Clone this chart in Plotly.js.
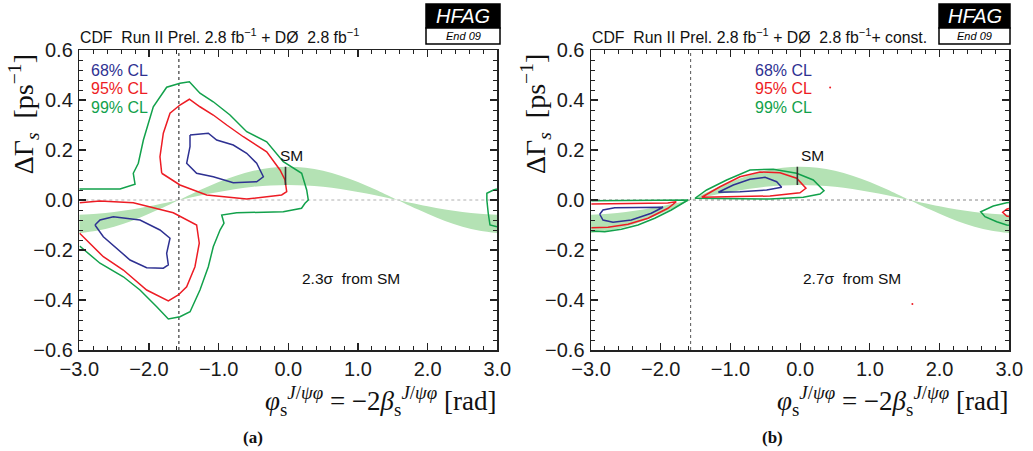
<!DOCTYPE html>
<html>
<head>
<meta charset="utf-8">
<script src="https://cdn.plot.ly/plotly-3.0.1.min.js"></script>
<style>
  html, body { margin: 0; padding: 0; background: #fff; }
  #chart { width: 1033px; height: 451px; }
</style>
</head>
<body>
<div id="chart"></div>
<script>
// ---- Standard Model band: DeltaGamma_s range versus phi_s ----
const bandPhi   = [-3, -2.75, -2.5, -2.25, -2, -1.75, -1.571, -1.5, -1.25, -1, -0.75, -0.5, -0.25, 0,
                   0.25, 0.5, 0.75, 1, 1.25, 1.5, 1.571, 1.75, 2, 2.25, 2.5, 2.75, 3];
const bandLow   = [-0.059, -0.055, -0.048, -0.038, -0.025, -0.011, 0, 0.004, 0.019, 0.032, 0.044, 0.053, 0.058, 0.060,
                   0.058, 0.053, 0.044, 0.032, 0.019, 0.004, 0, -0.011, -0.025, -0.038, -0.048, -0.055, -0.059];
const bandHigh  = [-0.132, -0.123, -0.107, -0.084, -0.055, -0.024, 0, 0.009, 0.042, 0.072, 0.097, 0.117, 0.129, 0.133,
                   0.129, 0.117, 0.097, 0.072, 0.042, 0.009, 0, -0.024, -0.055, -0.084, -0.107, -0.123, -0.132];

// SM point marker
const smPhi = -0.04;
const smDgLow = 0.06;
const smDgHigh = 0.133;
const phiSymLine = -1.571;

// ---- Panel (a): CDF + D0 combination ----
const a99MainX = [-3.0, -2.416, -2.20, -2.225, -2.153, -2.08, -1.938, -1.746, -1.555, -1.42, -1.268, -1.077, -0.837, -0.597,
                  -0.31, -0.072, 0.192, 0.264, 0.287, 0.24, 0.19, -0.072, -0.74, -0.956, -0.923, -0.98, -1.077, -1.148,
                  -1.268, -1.41, -1.555, -1.722, -1.889, -2.129, -2.368, -2.703, -2.995];
const a99MainY = [0.044, 0.044, 0.063, 0.107, 0.147, 0.24, 0.373, 0.451, 0.467, 0.473, 0.427, 0.393, 0.34, 0.273,
                  0.233, 0.153, 0.107, 0.04, 0.0, -0.013, -0.033, -0.047, -0.051, -0.06, -0.093, -0.12, -0.187, -0.267,
                  -0.36, -0.447, -0.467, -0.476, -0.427, -0.36, -0.307, -0.253, -0.184];
const a99EdgeX = [2.995, 2.945, 2.85, 2.85, 2.87, 2.895, 2.995];
const a99EdgeY = [0.044, 0.04, 0.027, 0.0, -0.053, -0.1, -0.107];
const a95UpX = [-1.817, -1.842, -1.794, -1.698, -1.555, -1.42, -1.268, -1.077, -0.884, -0.646, -0.31, -0.119, -0.047,
                -0.023, -0.095, -0.597, -1.172, -1.555, -1.817];
const a95UpY = [0.107, 0.173, 0.267, 0.347, 0.38, 0.403, 0.373, 0.34, 0.3, 0.253, 0.193, 0.12, 0.08,
                0.033, 0.02, 0.004, 0.02, 0.06, 0.107];
const a95LoX = [-2.995, -2.703, -2.225, -1.651, -1.316, -1.278, -1.34, -1.459, -1.579, -1.722, -2.033, -2.368, -2.655, -2.904, -2.995];
const a95LoY = [-0.011, -0.004, -0.011, -0.051, -0.1, -0.173, -0.267, -0.347, -0.38, -0.404, -0.36, -0.28, -0.227, -0.16, -0.133];
const a68UpX = [-1.411, -1.148, -1.028, -0.79, -0.597, -0.454, -0.358, -0.454, -0.79, -1.077, -1.316, -1.459, -1.411, -1.411];
const a68UpY = [0.26, 0.267, 0.24, 0.22, 0.187, 0.147, 0.093, 0.073, 0.069, 0.093, 0.107, 0.147, 0.213, 0.26];
const a68LoX = [-2.775, -2.703, -2.512, -2.129, -1.842, -1.698, -1.746, -1.722, -1.794, -2.033, -2.272, -2.464, -2.655, -2.775];
const a68LoY = [-0.1, -0.08, -0.067, -0.08, -0.12, -0.153, -0.213, -0.26, -0.273, -0.271, -0.24, -0.193, -0.147, -0.1];

// ---- Panel (b): combination with constraint ----
const b99UpX = [-1.508, -1.341, -1.054, -0.72, -0.385, -0.05, 0.188, 0.342, 0.285, 0.045, -0.433, -1.15, -1.508];
const b99UpY = [0.007, 0.04, 0.08, 0.12, 0.123, 0.107, 0.08, 0.037, 0.024, 0.011, 0.004, 0.004, 0.007];
const b95UpX = [-1.412, -1.15, -0.863, -0.576, -0.289, -0.05, 0.083, -0.003, -0.433, -1.054, -1.412];
const b95UpY = [0.011, 0.053, 0.093, 0.112, 0.109, 0.087, 0.047, 0.029, 0.016, 0.011, 0.011];
const b68UpX = [-1.174, -0.959, -0.72, -0.504, -0.337, -0.265, -0.48, -0.863, -1.174];
const b68UpY = [0.031, 0.06, 0.083, 0.091, 0.073, 0.051, 0.04, 0.033, 0.031];
const b99LoX = [-2.995, -1.62, -1.609, -1.848, -2.086, -2.326, -2.565, -2.803, -2.995];
const b99LoY = [-0.003, -0.002, 0.0, -0.04, -0.073, -0.1, -0.117, -0.127, -0.124];
const b95LoX = [-2.995, -1.9, -1.777, -1.896, -2.182, -2.469, -2.756, -2.995];
const b95LoY = [-0.016, -0.012, -0.007, -0.033, -0.073, -0.097, -0.109, -0.111];
const b68LoX = [-2.875, -2.828, -2.66, -2.326, -1.967, -2.135, -2.422, -2.684, -2.828, -2.875];
const b68LoY = [-0.057, -0.04, -0.031, -0.031, -0.029, -0.053, -0.08, -0.089, -0.08, -0.057];
const b99EdgeX = [2.995, 2.962, 2.77, 2.59, 2.651, 2.82, 2.962, 2.995];
const b99EdgeY = [-0.01, -0.011, -0.024, -0.047, -0.067, -0.087, -0.1, -0.101];
const b95EdgeX = [2.995, 2.962, 2.905, 2.962, 2.995];
const b95EdgeY = [-0.034, -0.037, -0.049, -0.064, -0.066];
const bSpeckX = [0.43, 1.61];
const bSpeckY = [0.45, -0.416];

const CL_LABELS = ['68% CL', '95% CL', '99% CL'];
const SIGMA_TEXT = ['2.3σ  from SM', '2.7σ  from SM'];

// ---- styling ----
const BLUE = '#2e3192', RED = '#ed1c24', GREEN = '#12a14b';
const BAND = '#b4e2b4';
const SANS = 'Liberation Sans, Arial, Helvetica, sans-serif';
const SERIF = 'Liberation Serif, Times New Roman, serif';
const W = 1033, H = 451;
const fx = p => p / W;
const fy = p => 1 - p / H;

function line(x, y, color, ax, extra) {
  return Object.assign({
    type: 'scatter', mode: 'lines', x: x, y: y, xaxis: ax[0], yaxis: ax[1],
    line: { color: color, width: 1.5 }, hoverinfo: 'skip', showlegend: false
  }, extra || {});
}

function panel(ax, contours, refStyle) {
  const t = [];
  t.push(line(bandPhi, bandLow, BAND, ax, { line: { color: BAND, width: 0, shape: 'spline' } }));
  t.push(line(bandPhi, bandHigh, BAND, ax, { line: { color: BAND, width: 0, shape: 'spline' }, fill: 'tonexty', fillcolor: BAND }));
  t.push(line([-3, 3], [0, 0], refStyle.hColor, ax, { line: { color: refStyle.hColor, width: 1, dash: refStyle.hDash } }));
  t.push(line([phiSymLine, phiSymLine], [-0.6, 0.6], refStyle.vColor, ax,
              { line: { color: refStyle.vColor, width: refStyle.vWidth, dash: refStyle.vDash } }));
  contours.forEach(c => t.push(line(c[0], c[1], c[2], ax)));
  t.push(line([smPhi, smPhi], [smDgLow, smDgHigh], '#333', ax, { line: { color: '#333', width: 1.6 } }));
  return t;
}

const traces = []
  .concat(panel(['x', 'y'], [
    [a99MainX, a99MainY, GREEN], [a99EdgeX, a99EdgeY, GREEN],
    [a95UpX, a95UpY, RED], [a95LoX, a95LoY, RED],
    [a68UpX, a68UpY, BLUE], [a68LoX, a68LoY, BLUE]
  ], { hColor: '#b0b0b0', hDash: '3px,3px', vColor: '#555', vWidth: 1.4, vDash: 'dot' }))
  .concat(panel(['x2', 'y2'], [
    [b99UpX, b99UpY, GREEN], [b95UpX, b95UpY, RED], [b68UpX, b68UpY, BLUE],
    [b99LoX, b99LoY, GREEN], [b95LoX, b95LoY, RED], [b68LoX, b68LoY, BLUE],
    [b99EdgeX, b99EdgeY, GREEN], [b95EdgeX, b95EdgeY, RED]
  ], { hColor: '#888', hDash: '3px,3px', vColor: '#555', vWidth: 1, vDash: '3px,3px' }));
traces.push({ type: 'scatter', mode: 'markers', x: bSpeckX, y: bSpeckY, xaxis: 'x2', yaxis: 'y2',
  marker: { color: RED, size: 2 }, hoverinfo: 'skip', showlegend: false });

function xAxis(domain, anchor) {
  return {
    domain: domain, anchor: anchor, range: [-3, 3], dtick: 1, tick0: 0, tickformat: '.1f',
    ticks: 'inside', ticklen: 7, tickwidth: 1.2, tickcolor: '#222',
    minor: { ticks: 'inside', dtick: 0.2, tick0: 0, ticklen: 4, tickwidth: 1, tickcolor: '#222' },
    showline: true, mirror: 'allticks', linecolor: '#222', linewidth: 1.5,
    showgrid: false, zeroline: false, automargin: false, fixedrange: true,
    tickfont: { family: SANS, size: 20, color: '#1a1a1a' }, ticklabelstandoff: 0
  };
}
function yAxis(domain, anchor) {
  return {
    domain: domain, anchor: anchor, range: [-0.6, 0.6], dtick: 0.2, tick0: 0, tickformat: '.1f',
    ticks: 'inside', ticklen: 7, tickwidth: 1.2, tickcolor: '#222',
    minor: { ticks: 'inside', dtick: 0.04, tick0: 0, ticklen: 4, tickwidth: 1, tickcolor: '#222' },
    showline: true, mirror: 'allticks', linecolor: '#222', linewidth: 1.5,
    showgrid: false, zeroline: false, automargin: false, fixedrange: true,
    tickfont: { family: SANS, size: 20, color: '#1a1a1a' }, ticklabelstandoff: 1
  };
}

const yDom = [fy(350), fy(50)];
const annotations = [];
const shapes = [];

function panelDecor(xl, xr, xa, ya, titleText, sigma, sigmaX, legendX, smLabelX, tag, boxL, boxR) {
  annotations.push({ xref: 'paper', yref: 'paper', x: fx(xl - 1), y: fy(48), xanchor: 'left', yanchor: 'bottom',
    text: titleText, showarrow: false, font: { family: SANS, size: 15.8, color: '#111' } });
  // HFAG badge
  shapes.push({ type: 'rect', xref: 'paper', yref: 'paper', x0: fx(boxL), x1: fx(boxR), y0: fy(28), y1: fy(4),
    fillcolor: '#000', line: { color: '#000', width: 1.5 } });
  shapes.push({ type: 'rect', xref: 'paper', yref: 'paper', x0: fx(boxL), x1: fx(boxR), y0: fy(44), y1: fy(28),
    fillcolor: '#fff', line: { color: '#000', width: 1.5 } });
  annotations.push({ xref: 'paper', yref: 'paper', x: fx((boxL + boxR) / 2), y: fy(16), xanchor: 'center', yanchor: 'middle',
    text: '<i>HFAG</i>', showarrow: false, font: { family: SANS, size: 20, color: '#fff' } });
  annotations.push({ xref: 'paper', yref: 'paper', x: fx((boxL + boxR) / 2), y: fy(36), xanchor: 'center', yanchor: 'middle',
    text: '<i>End 09</i>', showarrow: false, font: { family: SANS, size: 11, color: '#000' } });
  // confidence-level key
  [[CL_LABELS[0], BLUE, 0.52], [CL_LABELS[1], RED, 0.445], [CL_LABELS[2], GREEN, 0.37]].forEach(r => {
    annotations.push({ xref: xa, yref: ya, x: legendX, y: r[2], xanchor: 'left', yanchor: 'middle',
      text: r[0], showarrow: false, font: { family: SANS, size: 16, color: r[1] } });
  });
  annotations.push({ xref: xa, yref: ya, x: smLabelX, y: 0.18, xanchor: 'center', yanchor: 'middle',
    text: 'SM', showarrow: false, font: { family: SANS, size: 15.5, color: '#111' } });
  annotations.push({ xref: xa, yref: ya, x: sigmaX, y: -0.315, xanchor: 'center', yanchor: 'middle',
    text: sigma, showarrow: false, font: { family: SANS, size: 15.5, color: '#111' } });
  // axis titles
  annotations.push({ xref: 'paper', yref: 'paper', x: fx(xr + 1), y: fy(401), xanchor: 'right', yanchor: 'middle',
    text: '<i>φ</i><sub>s</sub><sup><i>J</i>/<i>ψφ</i></sup> = −2<i>β</i><sub>s</sub><sup><i>J</i>/<i>ψφ</i></sup> [rad]',
    showarrow: false, font: { family: SERIF, size: 27, color: '#111' } });
  annotations.push({ xref: 'paper', yref: 'paper', x: fx(xl - 55), y: fy(114), xanchor: 'center', yanchor: 'middle',
    textangle: -90, text: 'ΔΓ<sub><i>s</i></sub>  [ps<sup>−1</sup>]', showarrow: false,
    font: { family: SERIF, size: 28, color: '#111' } });
  annotations.push({ xref: 'paper', yref: 'paper', x: fx(tag[1]), y: fy(437), xanchor: 'center', yanchor: 'middle',
    text: '<b>' + tag[0] + '</b>', showarrow: false, font: { family: SERIF, size: 17, color: '#111' } });
}

panelDecor(79.3, 497.3, 'x', 'y',
  'CDF  Run II Prel. 2.8 fb<sup>−1</sup> + DØ  2.8 fb<sup>−1</sup>',
  SIGMA_TEXT[0], 0.9, -2.86, 0.05, ['(a)', 253], 426, 500);
panelDecor(591, 1009.3, 'x2', 'y2',
  'CDF  Run II Prel. 2.8 fb<sup>−1</sup> + DØ  2.8 fb<sup>−1</sup>+ const.',
  SIGMA_TEXT[1], 0.74, -0.68, 0.17, ['(b)', 772], 939, 1010);

const layout = {
  width: W, height: H,
  margin: { l: 0, r: 0, t: 0, b: 0 },
  paper_bgcolor: '#fff', plot_bgcolor: '#fff',
  showlegend: false,
  xaxis: xAxis([fx(79.3), fx(497.3)], 'y'),
  yaxis: yAxis(yDom, 'x'),
  xaxis2: xAxis([fx(591), fx(1009.3)], 'y2'),
  yaxis2: yAxis(yDom, 'x2'),
  annotations: annotations,
  shapes: shapes
};

Plotly.newPlot('chart', traces, layout, { displayModeBar: false, staticPlot: true });
</script>
</body>
</html>
